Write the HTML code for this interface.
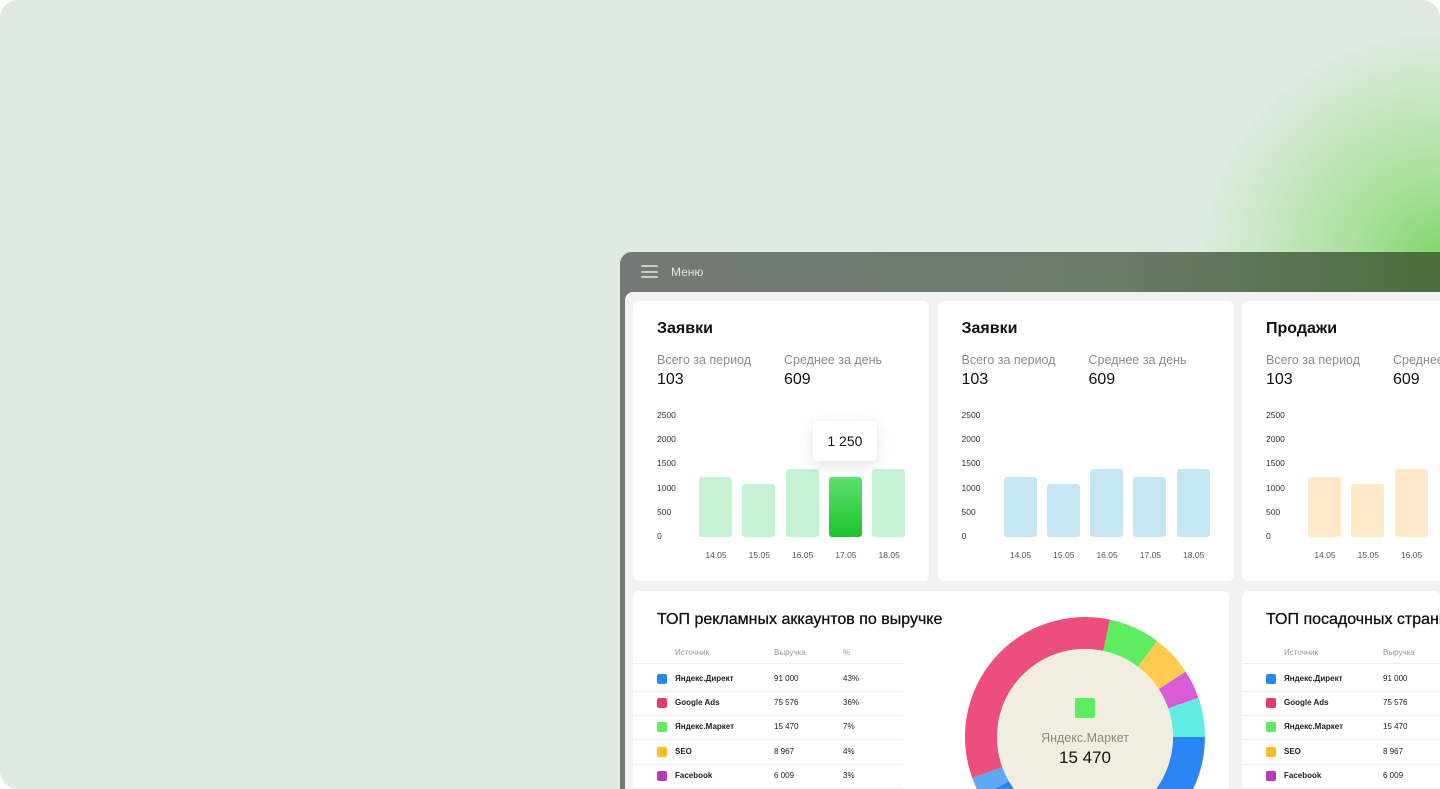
<!DOCTYPE html>
<html><head><meta charset="utf-8"><style>
*{margin:0;padding:0;box-sizing:border-box}
html,body{width:1440px;height:789px;overflow:hidden}
body{background:#fff;font-family:"Liberation Sans","Noto Sans CJK SC",sans-serif;position:relative}
#clip{position:absolute;left:0;top:0;width:1440px;height:789px;overflow:hidden}
#bg{position:absolute;left:0;top:0;width:1440px;height:789px;border-radius:18px;background:radial-gradient(ellipse 240px 230px at 1440px 260px,#7fd66a 0%,#a9e19a 35%,rgba(223,234,224,0) 100%),#dfebe1;overflow:hidden}
#win{position:absolute;left:620px;top:252px;width:820px;height:537px;border-radius:12px 0 0 0;background:linear-gradient(90deg,#737a73 0%,#6c7a6b 60%,#4a6e3c 100%);overflow:hidden}
#menu-ic{position:absolute;left:21px;top:13px;width:17px;height:13px}
#menu-ic i{display:block;height:2px;background:#c9ccc8;margin-bottom:3.5px;border-radius:1px}
#menu-t{position:absolute;left:51px;top:13px;color:#dfe2de;font-size:12px}
#panel{position:absolute;left:5px;top:40px;width:815px;height:497px;background:#f2f2f2;border-radius:8px 0 0 0}
.card{position:absolute;background:#fff;border-radius:6px;overflow:hidden}
.t{position:absolute;font-size:16px;font-weight:bold;color:#111;white-space:nowrap}
.lab{position:absolute;font-size:12.5px;color:#8b8b8b;white-space:nowrap}
.num{position:absolute;font-size:16px;color:#111}
.yt{position:absolute;font-size:8.5px;color:#333}
.xt{position:absolute;font-size:8.5px;color:#555;width:40px;text-align:center}
.bar{position:absolute;border-radius:3px}
.th{position:absolute;font-size:8px;color:#999;white-space:nowrap}
.td{position:absolute;font-size:8px;color:#222;white-space:nowrap}
.sw{position:absolute;width:10px;height:10px;border-radius:2px}
.sep{position:absolute;height:1px;background:#eee}
</style></head><body>
<div id="clip">
<div id="bg"></div>
<div id="win">
 <div id="menu-ic"><i></i><i></i><i></i></div>
 <div id="menu-t">Меню</div>
 <div id="panel"></div>
</div>
</div>
<script>
const dates=['14.05','15.05','16.05','17.05','18.05'];
const valsA=[1250,1100,1400,1250,1400];
const valsB=[1250,1100,1400,1250,1400];
const valsC=[1250,1100,1400,1250,1400];
const yTicks=[0,500,1000,1500,2000,2500];
const titles=['Заявки','Заявки','Продажи'];
const srcNames=['Яндекс.Директ','Google Ads','Яндекс.Маркет','SEO','Facebook'];
const srcRevenue=['91 000','75 576','15 470','8 967','6 009'];
const srcPct=['43%','36%','7%','4%','3%'];
const srcColors=['#2a86f5','#e23c6e','#5ded5e','#fbbd28','#b53bb8'];
const donutVals=[25,20,14,19,150,10,122];
const donutCols=['#5ded5e','#fdcb50','#d85bd8','#5eeee6','#2a86f5','#5fa8f5','#ec4f7e'];
const root=document.getElementById('clip');
function mk(tag,cls,name,inter,css,txt,parent){const e=document.createElement(tag);if(cls)e.className=cls;


if(css)e.style.cssText=css;if(txt!=null)e.textContent=txt;(parent||root).appendChild(e);return e;}
const sets=[valsA,valsB,valsC];
const colLight=['#c4f2d2','#c5e6f3','#fde8c8'];
const y0=537,ppu=121/2500;
function yPos(v){return y0-v*ppu;}
for(let c=0;c<3;c++){
 const cx=633+c*304.5;
 mk('div','card','chart-card-'+(c+1),'false',`left:${cx}px;top:301px;width:${c===2?198:296}px;height:280px;border-radius:${c===2?'6px 0 0 6px':'6px'}`);
 mk('div','t','card-title','false',`left:${cx+24}px;top:320px`,titles[c]);
 mk('div','lab','total-label','false',`left:${cx+24}px;top:353px`,'Всего за период');
 if(c<2)mk('div','lab','average-label','false',`left:${cx+151}px;top:353px`,'Среднее за день');
 else mk('div','lab','average-label','false',`left:${cx+151}px;top:353px;width:47px;overflow:hidden`,'Среднее за день');
 mk('div','num','total-value','false',`left:${cx+24}px;top:371px`,'103');
 mk('div','num','average-value','false',`left:${cx+151}px;top:371px`,'609');
 yTicks.forEach(t=>{mk('div','yt','y-tick','false',`left:${cx+24}px;top:${yPos(t)-6}px`,String(t));});
 dates.forEach((d,i)=>{
  const bx=cx+66+i*43.3,v=sets[c][i],top=yPos(v);
  if(bx+33>1440)return;
  const hl=(c===0&&i===3);
  mk('div','bar','bar-'+d,'true',`left:${bx}px;top:${top}px;width:33px;height:${y0-top}px;background:${hl?'linear-gradient(#5ee06f,#1cc52c)':colLight[c]}`);
  mk('div','xt','x-tick','false',`left:${bx-3}px;top:550px`,d);
  if(hl){
   mk('div','','tooltip','false',`position:absolute;left:${bx-16}px;top:${top-56}px;width:64px;height:40px;background:#fff;border-radius:4px;box-shadow:0 4px 14px rgba(0,0,0,.12);font-size:14px;text-align:center;line-height:40px;color:#111`,String(v).replace(/\B(?=(\d{3})+$)/,' '));
  }
 });
}
[[633,'ТОП рекламных аккаунтов по выручке',596],[1242,'ТОП посадочных страниц',198]].forEach(([cx,tt,w],k)=>{
 const card=mk('div','card','table-card-'+(k+1),'false',`left:${cx}px;top:591px;width:${w}px;height:198px;border-radius:6px 6px 0 0`);
 mk('div','t','table-title','false',`left:${cx+24}px;top:611px;font-weight:normal;-webkit-text-stroke:.3px #111;max-width:${w-24}px;overflow:hidden`,tt);
 mk('div','th','col-source','false',`left:${cx+42}px;top:648px`,'Источник');
 mk('div','th','col-revenue','false',`left:${cx+141}px;top:648px`,'Выручка');
 mk('div','th','col-pct','false',`left:${cx+210}px;top:648px`,'%');
 mk('div','sep','header-sep','false',`left:${cx}px;top:663px;width:270px`);
 srcNames.forEach((n,i)=>{
  const y=679+i*24.2;
  mk('div','sw','swatch-'+i,'false',`left:${cx+24}px;top:${y-5}px;background:${srcColors[i]}`);
  mk('div','td','source-name','false',`left:${cx+42}px;top:${y-5}px;font-weight:bold`,n);
  mk('div','td','revenue','false',`left:${cx+141}px;top:${y-5}px`,srcRevenue[i]);
  mk('div','td','pct','false',`left:${cx+210}px;top:${y-5}px`,srcPct[i]);
  mk('div','sep','row-sep','false',`left:${cx}px;top:${y+12}px;width:270px`);
 });
});
const NS='http://www.w3.org/2000/svg';
const svg=document.createElementNS(NS,'svg');


svg.setAttribute('width','260');svg.setAttribute('height','180');
svg.style.cssText='position:absolute;left:955px;top:609px;overflow:hidden';
root.appendChild(svg);
const CX=130,CY=128,R=120,RI=88;
const tot=donutVals.reduce((a,b)=>a+b,0);
let a0=12*Math.PI/180;
const pt=(a,r)=>[CX+r*Math.sin(a),CY-r*Math.cos(a)];
donutVals.forEach((v,i)=>{
 const a1=a0+v/tot*2*Math.PI,lg=(a1-a0)>Math.PI?1:0;
 const [x1,y1]=pt(a0,R),[x2,y2]=pt(a1,R),[x3,y3]=pt(a1,RI),[x4,y4]=pt(a0,RI);
 const p=document.createElementNS(NS,'path');
 p.setAttribute('d',`M${x1} ${y1}A${R} ${R} 0 ${lg} 1 ${x2} ${y2}L${x3} ${y3}A${RI} ${RI} 0 ${lg} 0 ${x4} ${y4}Z`);
 p.setAttribute('fill',donutCols[i]);
 
 
 svg.appendChild(p);a0=a1;
});
const c=document.createElementNS(NS,'circle');c.setAttribute('cx',CX);c.setAttribute('cy',CY);c.setAttribute('r',RI);c.setAttribute('fill','#f1eee0');


svg.appendChild(c);
mk('div','sw','center-swatch','false','left:1075px;top:698px;width:20px;height:20px;background:#5ded5e');
mk('div','','center-label','false','position:absolute;left:1005px;top:731px;width:160px;text-align:center;font-size:12.5px;color:#8b8b8b','Яндекс.Маркет');
mk('div','','center-value','false','position:absolute;left:1005px;top:748px;width:160px;text-align:center;font-size:17px;color:#111','15 470');
</script>
</body></html>
